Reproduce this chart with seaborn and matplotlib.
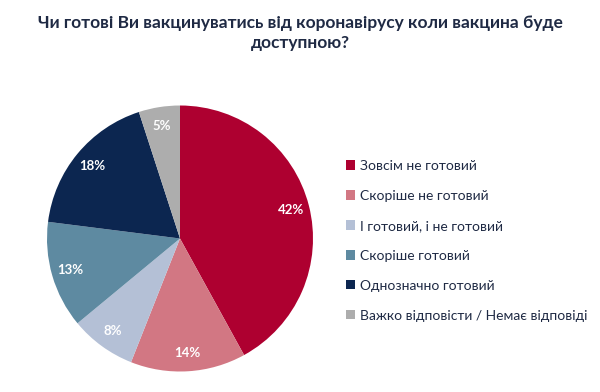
import matplotlib
matplotlib.use("Agg")
import matplotlib.pyplot as plt
import seaborn as sns
from matplotlib.patches import Patch

categories = ["Зовсім не готовий", "Скоріше не готовий", "І готовий, і не готовий",
              "Скоріше готовий", "Однозначно готовий", "Важко відповісти / Немає відповіді"]
values = [42, 14, 8, 13, 18, 5]
colors = ["#AE0030", "#D27783", "#B4C0D6", "#5E8AA1", "#0C2650", "#ADADAD"]
title = "Чи готові Ви вакцинуватись від коронавірусу коли вакцина буде\nдоступною?"

sns.set_theme(style="white")
plt.rcParams['font.family'] = ['Lato', 'DejaVu Sans']
palette = sns.color_palette(colors)

fig = plt.figure(figsize=(6, 3.92), dpi=100)
# pie axes: center (180, 238.5), radius 133 px
R = 133
cx, cy = 180, 238.5
ax = fig.add_axes([(cx - R) / 600, (392 - cy - R) / 392, 2 * R / 600, 2 * R / 392])
wedges, texts, autotexts = ax.pie(values, colors=palette, startangle=90, counterclock=False,
                                  autopct=lambda p: f"{p:.0f}%", pctdistance=0.86,
                                  radius=1.0, wedgeprops=dict(linewidth=0))
for t in autotexts:
    t.set_color("white")
    t.set_fontsize(9.5)
    t.set_fontweight("bold")
ax.set_xlim(-1, 1)
ax.set_ylim(-1, 1)
ax.set_aspect("equal")
ax.axis("off")

fig.text(0.5, 1 - 33 / 392, title, ha="center", va="center", fontsize=12.5,
         fontweight="bold", color="#1F2A44", linespacing=1.3)

handles = [Patch(facecolor=c, edgecolor="none") for c in palette]
leg = fig.legend(handles, categories, loc="upper left", bbox_to_anchor=(346 / 600, 1 - 160 / 392),
                 frameon=False, fontsize=10, handlelength=0.65, handleheight=0.65,
                 handletextpad=0.35, labelspacing=1.29, borderaxespad=0, borderpad=0)
for t in leg.get_texts():
    t.set_color("#1F2A44")

fig.savefig("out.png", dpi=100, facecolor="white")
